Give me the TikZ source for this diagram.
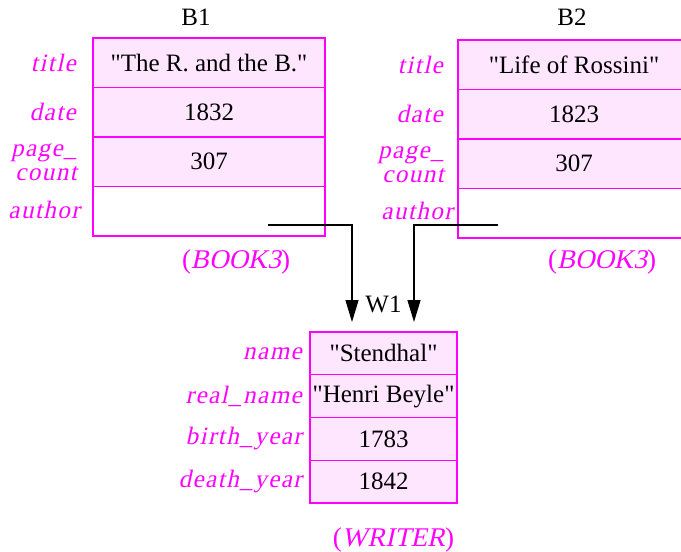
\documentclass[tikz,border=0pt]{standalone}
\usepackage{fontspec}
\setmainfont{Liberation Serif}
\newfontfamily\attrfont{Liberation Serif}[FakeSlant=0.22, LetterSpace=6]
\newfontfamily\slfont{Liberation Serif}[FakeSlant=0.22]
\usetikzlibrary{arrows.meta, positioning}
\definecolor{recline}{RGB}{255,0,255}
\definecolor{recfill}{RGB}{255,230,255}
\newcommand\qt[1]{\textquotedbl#1\textquotedbl}

\begin{document}
\begin{tikzpicture}[x=1pt, y=-1pt, >={Triangle[length=22pt, width=13pt]},
    field/.style={draw=recline, line width=1.4pt, fill=recfill, minimum width=232pt, minimum height=49.5pt, inner sep=0pt, outer sep=0pt, font=\fontsize{25}{30}\selectfont},
    wfield/.style={field, minimum width=147pt, minimum height=42.75pt},
    attr/.style={text=recline, align=right, inner sep=0pt, font=\attrfont\fontsize{25}{24}\selectfont},
    oid/.style={inner sep=0pt, font=\fontsize{25}{30}\selectfont},
    rtype/.style={text=recline, inner sep=0pt, font=\fontsize{27}{30}\selectfont},
    ptr/.style={->, line width=1.2pt}]
    \useasboundingbox (0,0) rectangle (681,552);

    \node[field, anchor=north west] (b1title) at (93,38) {\qt{The R. and the B.}};
    \node[field, below=0pt of b1title] (b1date) {1832};
    \node[field, below=0pt of b1date] (b1count) {307};
    \node[field, below=0pt of b1count, fill=white] (b1author) {};
    \node[oid, above=12pt of b1title, xshift=-13pt] (b1) {B1};
    \node[attr, left=17pt of b1title] (b1titlel) {title};
    \node[attr, left=17pt of b1date] (b1datel) {date};
    \node[attr, left=16pt of b1count] (b1countl) {page\_\\count};
    \node[attr, left=13pt of b1author, yshift=1pt] (b1authorl) {author};
    \node[rtype, below=14pt of b1author, xshift=27pt] (b1type) {({\slfont BOOK3})};

    \node[field, anchor=north west] (b2title) at (458,40) {\qt{Life of Rossini}};
    \node[field, below=0pt of b2title] (b2date) {1823};
    \node[field, below=0pt of b2date] (b2count) {307};
    \node[field, below=0pt of b2count, fill=white] (b2author) {};
    \node[oid, above=14pt of b2title, xshift=-2pt] (b2) {B2};
    \node[attr, left=15pt of b2title] (b2titlel) {title};
    \node[attr, left=15pt of b2date] (b2datel) {date};
    \node[attr, left=14pt of b2count] (b2countl) {page\_\\count};
    \node[attr, left=5pt of b2author, yshift=2pt] (b2authorl) {author};
    \node[rtype, below=12pt of b2author, xshift=28pt] (b2type) {({\slfont BOOK3})};

    \node[wfield, anchor=north west] (w1name) at (310,332) {\qt{Stendhal}};
    \node[wfield, below=0pt of w1name] (w1real) {\qt{Henri Beyle}};
    \node[wfield, below=0pt of w1real] (w1birth) {1783};
    \node[wfield, below=0pt of w1birth] (w1death) {1842};
    \node[oid, above=19pt of w1name] (w1) {W1};
    \node[attr, left=8pt of w1name] (w1namel) {name};
    \node[attr, left=8pt of w1real] (w1reall) {real\_name};
    \node[attr, left=8pt of w1birth] (w1birthl) {birth\_year};
    \node[attr, left=8pt of w1death] (w1deathl) {death\_year};
    \node[rtype, below=25pt of w1death, xshift=10pt] (w1type) {({\slfont WRITER})};

    \coordinate (b1ptr) at ([xshift=-57pt, yshift=11pt]b1author.south east);
    \coordinate (b2ptr) at ([xshift=40pt, yshift=13pt]b2author.south west);
    \draw[ptr] (b1ptr) -| ([xshift=-31.5pt, yshift=10pt]w1name.north);
    \draw[ptr] (b2ptr) -| ([xshift=30.5pt, yshift=10pt]w1name.north);
\end{tikzpicture}
\end{document}
